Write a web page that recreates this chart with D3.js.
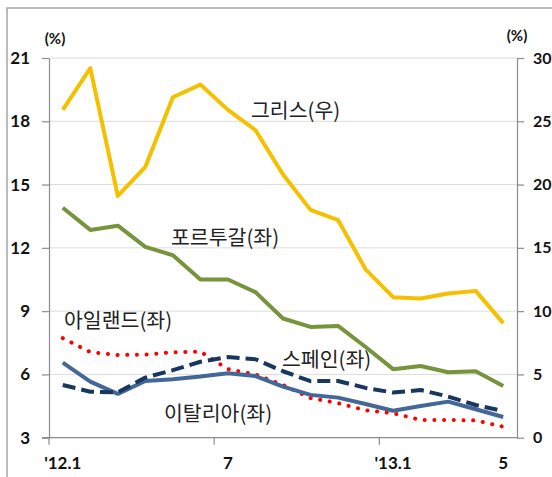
<!DOCTYPE html>
<html>
<head>
<meta charset="utf-8">
<script src="https://cdn.jsdelivr.net/npm/d3@7"></script>
<style>
  body { margin: 0; background: #fff; }
  svg text { font-family: "Lato", "Noto Sans", sans-serif; }
  .lab { font-family: "Noto Sans CJK KR", sans-serif; font-size: 20.5px; fill: #222; }
</style>
</head>
<body>
<div id="chart"></div>
<script>
// months from '12.1 to '13.5
const months = ["12.1","12.2","12.3","12.4","12.5","12.6","12.7","12.8","12.9","12.10","12.11","12.12",
                "13.1","13.2","13.3","13.4","13.5"];
const tickIdx = [0, 6, 12, 16];
const tickLabels = ["'12.1", "7", "'13.1", "5"];

// right axis (%)
const greece   = [25.9, 29.2, 19.1, 21.4, 26.9, 27.9, 25.9, 24.3, 20.8, 18.0, 17.2, 13.3, 11.1, 11.0, 11.4, 11.6, 9.05];
// left axis (%)
const portugal = [13.9, 12.85, 13.05, 12.05, 11.65, 10.5, 10.5, 9.9, 8.65, 8.25, 8.3, 7.3, 6.25, 6.4, 6.1, 6.15, 5.45];
const italy    = [6.56, 5.66, 5.08, 5.69, 5.77, 5.9, 6.06, 5.92, 5.42, 5.03, 4.9, 4.6, 4.28, 4.5, 4.71, 4.35, 3.98];
const spain    = [5.5, 5.18, 5.15, 5.85, 6.2, 6.6, 6.82, 6.72, 6.15, 5.68, 5.69, 5.36, 5.14, 5.26, 4.95, 4.55, 4.26];
const ireland  = [7.72, 7.06, 6.92, 6.94, 7.05, 7.08, 6.25, 6.0, 5.5, 4.88, 4.64, 4.3, 4.16, 3.84, 3.84, 3.82, 3.52];

const leftTicks = [3, 6, 9, 12, 15, 18, 21];
const rightTicks = [0, 5, 10, 15, 20, 25, 30];

const width = 552, height = 477;
const margins = { top: 58, bottom: 39.3, left: 49, right: 35 };

const svg = d3.select("#chart").append("svg")
  .attr("width", width)
  .attr("height", height);

// outer frame
svg.append("rect")
  .attr("x", 7).attr("y", 8)
  .attr("width", 560).attr("height", 500)
  .attr("fill", "none")
  .attr("stroke", "#a6a6a6")
  .attr("stroke-width", 1.5);

/** SCALES */
const xScale = d3.scaleBand()
  .domain(months.map((d, i) => i))
  .range([margins.left, width - margins.right]);
const xMid = i => xScale(i) + xScale.bandwidth() / 2;

const yLeft = d3.scaleLinear()
  .domain([3, 21])
  .range([height - margins.bottom, margins.top]);
const yRight = d3.scaleLinear()
  .domain([0, 30])
  .range([height - margins.bottom, margins.top]);

const x0 = margins.left, x1 = width - margins.right;
const yb = height - margins.bottom;

// gridlines
svg.selectAll("line.grid")
  .data(leftTicks.slice(1))
  .join("line")
  .attr("class", "grid")
  .attr("x1", x0).attr("x2", x1)
  .attr("y1", d => yLeft(d)).attr("y2", d => yLeft(d))
  .attr("stroke", "#dcdcdc")
  .attr("stroke-width", 1);

// left axis
const leftAxis = svg.append("g")
  .attr("transform", `translate(${x0},0)`)
  .call(d3.axisLeft(yLeft).tickValues(leftTicks).tickSize(7).tickPadding(12).tickSizeOuter(0));
// right axis
const rightAxis = svg.append("g")
  .attr("transform", `translate(${x1},0)`)
  .call(d3.axisRight(yRight).tickValues(rightTicks).tickSize(7).tickPadding(9).tickSizeOuter(0));
// bottom axis
const bottomAxis = svg.append("g")
  .attr("transform", `translate(0,${yb})`)
  .call(d3.axisBottom(xScale).tickValues([]).tickSizeOuter(0));

[leftAxis, rightAxis, bottomAxis].forEach(g => {
  g.select(".domain").attr("stroke", "#8c8c8c").attr("stroke-width", 1.2);
  g.selectAll(".tick line").attr("stroke", "#8c8c8c").attr("stroke-width", 1.2);
  g.selectAll(".tick text")
    .attr("fill", "#111")
    .style("font-family", "Lato, sans-serif")
    .style("font-weight", "bold")
    .style("font-size", "17px");
});
rightAxis.selectAll(".tick text").style("font-size", "16px");
bottomAxis.select(".domain").attr("d", `M${x0 - 7},0H${x1}`);

// x tick marks every 6 months
svg.selectAll("line.xtick")
  .data(tickIdx.slice(0, 3))
  .join("line")
  .attr("class", "xtick")
  .attr("x1", d => xScale(d)).attr("x2", d => xScale(d))
  .attr("y1", yb).attr("y2", yb + 7)
  .attr("stroke", "#8c8c8c")
  .attr("stroke-width", 1.2);

// x labels
svg.selectAll("text.xlab")
  .data(tickIdx)
  .join("text")
  .attr("class", "xlab")
  .attr("x", d => xMid(d))
  .attr("y", yb + 31)
  .attr("text-anchor", "middle")
  .attr("fill", "#111")
  .style("font-weight", "bold")
  .style("font-size", "17px")
  .text((d, i) => tickLabels[i]);

// unit labels
svg.append("text").attr("x", 55).attr("y", 44).attr("text-anchor", "middle")
  .style("font-weight", "bold").style("font-size", "15px").attr("fill", "#111").text("(%)");
svg.append("text").attr("x", 517).attr("y", 41).attr("text-anchor", "middle")
  .style("font-weight", "bold").style("font-size", "15px").attr("fill", "#111").text("(%)");

/** LINES */
const lineL = d3.line().x((d, i) => xMid(i)).y(d => yLeft(d));
const lineR = d3.line().x((d, i) => xMid(i)).y(d => yRight(d));

svg.append("path").datum(portugal)
  .attr("d", lineL).attr("fill", "none")
  .attr("stroke", "#77933c").attr("stroke-width", 4).attr("stroke-linejoin", "round");

svg.append("path").datum(ireland)
  .attr("d", lineL).attr("fill", "none")
  .attr("stroke", "#ff0000").attr("stroke-width", 4)
  .attr("stroke-linecap", "round").attr("stroke-dasharray", "0.1 9.6");

svg.append("path").datum(italy)
  .attr("d", lineL).attr("fill", "none")
  .attr("stroke", "#436797").attr("stroke-width", 4).attr("stroke-linejoin", "round");

svg.append("path").datum(spain)
  .attr("d", lineL).attr("fill", "none")
  .attr("stroke", "#17375e").attr("stroke-width", 4)
  .attr("stroke-dasharray", "13 6").attr("stroke-linejoin", "round");

svg.append("path").datum(greece)
  .attr("d", lineR).attr("fill", "none")
  .attr("stroke", "#f5c000").attr("stroke-width", 4).attr("stroke-linejoin", "round");

/** SERIES LABELS */
const labels = [
  { text: "그리스(우)", x: 251, y: 118 },
  { text: "포르투갈(좌)", x: 171, y: 245 },
  { text: "아일랜드(좌)", x: 64, y: 328 },
  { text: "스페인(좌)", x: 282, y: 367 },
  { text: "이탈리아(좌)", x: 164, y: 421 }
];
svg.selectAll("text.lab")
  .data(labels)
  .join("text")
  .attr("class", "lab")
  .attr("x", d => d.x)
  .attr("y", d => d.y)
  .text(d => d.text);
</script>
</body>
</html>
